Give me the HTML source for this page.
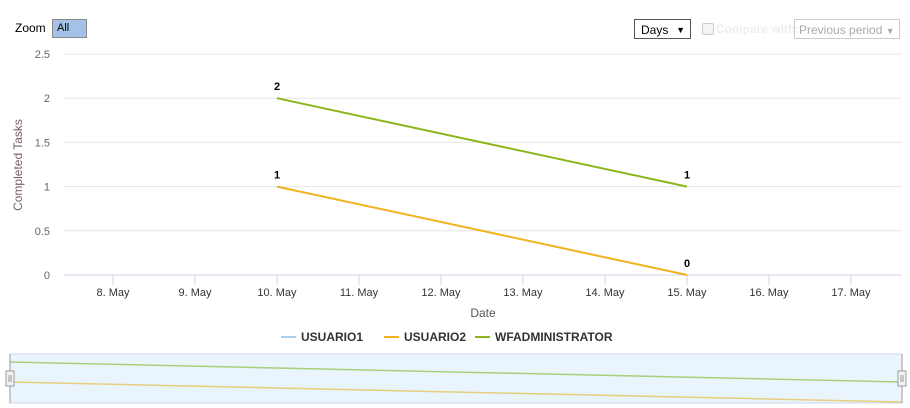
<!DOCTYPE html>
<html><head><meta charset="utf-8"><style>
body{margin:0;width:910px;height:408px;background:#fff;font-family:"Liberation Sans",sans-serif;overflow:hidden;position:relative}
.abs{position:absolute}
</style></head><body>
<div class="abs" style="left:15px;top:21px;font-size:12px;color:#000">Zoom</div>
<div class="abs" style="left:52px;top:19px;width:29px;height:17px;background:#a4c2e8;border:1px solid #888;font-size:11px;line-height:17px;padding-left:4px;box-sizing:content-box">All</div>
<div class="abs" style="left:634px;top:19px;width:57px;height:20px;border:1px solid #555;font-size:12px;line-height:20px;box-sizing:border-box;padding-left:6px">Days<span style="position:absolute;right:5px;font-size:9px">▼</span></div>
<div class="abs" style="left:702px;top:23px;width:10px;height:10px;border:1px solid #ccc;border-radius:2px;background:#f4f4f4"></div>
<div class="abs" style="left:716px;top:22px;font-size:12px;color:#eee;font-weight:bold">Compare with:</div>
<div class="abs" style="left:794px;top:19px;width:106px;height:20px;border:1px solid #ccc;font-size:12px;line-height:20px;box-sizing:border-box;padding-left:4px;color:#aaa">Previous period <span style="font-size:9px">▼</span></div>
<svg class="abs" style="left:0;top:0" width="910" height="408">
<g id="grid"></g><g id="axes"></g><g id="series"></g><g id="nav"></g>
</svg>
<script>
const days=[8,9,10,11,12,13,14,15,16,17];
const yTicks=[0,0.5,1,1.5,2,2.5];
const yTickLabels=["0","0.5","1","1.5","2","2.5"];
const usuario1Days=[];
const usuario1Values=[];
const usuario2Days=[10,15];
const usuario2Values=[1,0];
const wfadminDays=[10,15];
const wfadminValues=[2,1];
const NS="http://www.w3.org/2000/svg";
function x(d){return 113+(d-8)*82;}
function y(v){return 275-v*88.4;}
function mk(tag,attrs,parent,text){const e=document.createElementNS(NS,tag);for(const k in attrs)e.setAttribute(k,attrs[k]);if(text!==undefined)e.textContent=text;parent.appendChild(e);return e;}
const grid=document.getElementById('grid'),axes=document.getElementById('axes'),ser=document.getElementById('series'),nav=document.getElementById('nav');
yTicks.forEach((t,i)=>{
 const l=mk('line',{x1:64,x2:902,y1:y(t),y2:y(t),stroke:t===0?'#ccd6eb':'#e6e6e6'},grid);
 
 
 const tx=mk('text',{x:50,y:y(t)+4,'text-anchor':'end','font-size':11,fill:'#666'},axes,yTickLabels[i]);
 
 
});
days.forEach(d=>{
 const tk=mk('line',{x1:x(d),x2:x(d),y1:275,y2:285,stroke:'#ccd6eb'},axes);
 
 
 const tx=mk('text',{x:x(d),y:296,'text-anchor':'middle','font-size':11,fill:'#333'},axes,d+'. May');
 
 
});
const yt=mk('text',{x:0,y:0,transform:'translate(22,165) rotate(-90)','text-anchor':'middle','font-size':12,fill:'#7a5f5f'},axes,'Completed Tasks');


const xt=mk('text',{x:483,y:317,'text-anchor':'middle','font-size':12,fill:'#555'},axes,'Date');


function drawSeries(ds,vs,color,name){
 if(!ds.length)return;
 const p=mk('polyline',{points:ds.map((d,i)=>x(d)+','+y(vs[i])).join(' '),fill:'none',stroke:color,'stroke-width':2},ser);
 
 
 ds.forEach((d,i)=>{
  const t=mk('text',{x:x(d),y:y(vs[i])-8,'text-anchor':'middle','font-size':11,'font-weight':'bold',fill:'#000',stroke:'#fff','stroke-width':2,'paint-order':'stroke'},ser,String(vs[i]));
  
  
 });
}
drawSeries(usuario1Days,usuario1Values,'#aad1f0','usuario1');
drawSeries(usuario2Days,usuario2Values,'#f0b31e','usuario2');
drawSeries(wfadminDays,wfadminValues,'#8ab51b','wfadministrator');
const leg=[['USUARIO1','#aad1f0',281],['USUARIO2','#f0b31e',384],['WFADMINISTRATOR','#8ab51b',475]];
leg.forEach(l=>{
 const g=mk('g',{},axes);
 
 
 mk('line',{x1:l[2],x2:l[2]+15,y1:337,y2:337,stroke:l[1],'stroke-width':2},g);
 mk('text',{x:l[2]+20,y:341,'font-size':12,'font-weight':'bold',fill:'#333'},g,l[0]);
});
const nx0=10,nx1=902,ny0=354,ny1=403;
const dmin=10,dmax=15,vmax=2;
function nxf(d){return nx0+(d-dmin)/(dmax-dmin)*(nx1-nx0);}
function nyf(v){return 402-v/vmax*40;}
const nb=mk('rect',{x:nx0,y:ny0,width:nx1-nx0,height:ny1-ny0,fill:'#eaf4fc',stroke:'#ccd6eb'},nav);


[[usuario2Days,usuario2Values,'#e8cf80','usuario2'],[wfadminDays,wfadminValues,'#a8cf7a','wfadministrator']].forEach(s=>{
 const p=mk('polyline',{points:s[0].map((d,i)=>nxf(d)+','+nyf(s[1][i])).join(' '),fill:'none',stroke:s[2],'stroke-width':1.5},nav);
 
 
});
[nx0,nx1].forEach((hx,i)=>{
 const g=mk('g',{},nav);
 
 
 mk('line',{x1:hx,x2:hx,y1:ny0,y2:ny1,stroke:'#999'},g);
 mk('rect',{x:hx-4,y:371,width:8,height:15,fill:'#f2f2f2',stroke:'#999'},g);
 mk('line',{x1:hx-1,x2:hx-1,y1:375,y2:382,stroke:'#999'},g);
 mk('line',{x1:hx+1,x2:hx+1,y1:375,y2:382,stroke:'#999'},g);
});
</script>
</body></html>
